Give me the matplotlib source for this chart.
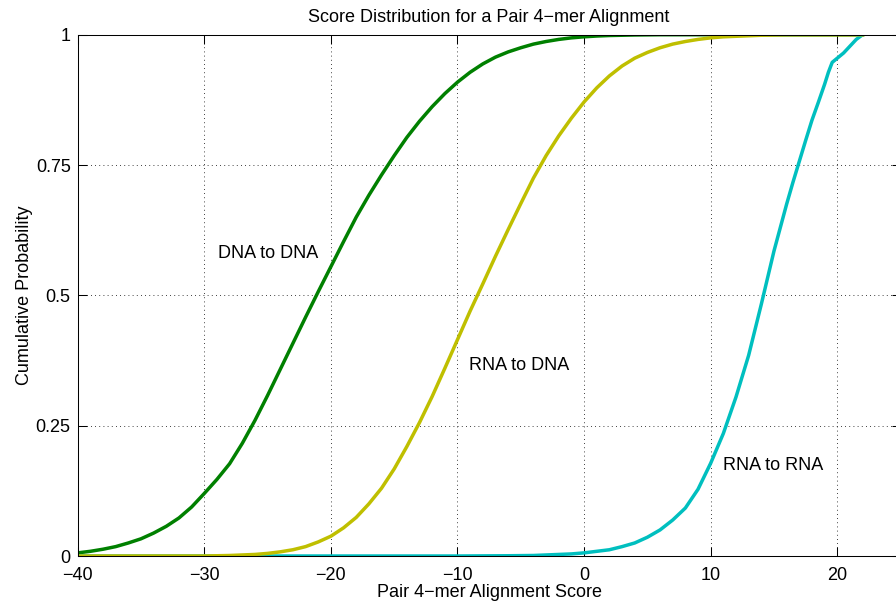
import matplotlib
matplotlib.use("Agg")
import matplotlib.pyplot as plt

plt.rcParams['font.family'] = ['Liberation Sans', 'DejaVu Sans']

# values (score, cumulative probability)
dna_dna_x = [-40, -39, -38, -37, -36, -35, -34, -33, -32, -31, -30, -29, -28,
             -27, -26, -25, -24, -23, -22, -21, -20, -19, -18, -17, -16, -15,
             -14, -13, -12, -11, -10, -9, -8, -7, -6, -5, -4, -3, -2, -1, 0,
             1, 2, 3, 4, 6, 22]
dna_dna_y = [0.006, 0.009, 0.013, 0.018, 0.025, 0.033, 0.044, 0.057, 0.073,
             0.094, 0.12, 0.147, 0.177, 0.216, 0.26, 0.308, 0.358, 0.408,
             0.458, 0.507, 0.555, 0.603, 0.65, 0.692, 0.731, 0.768, 0.803,
             0.834, 0.862, 0.887, 0.909, 0.928, 0.944, 0.957, 0.967, 0.975,
             0.982, 0.987, 0.991, 0.994, 0.996, 0.9975, 0.9985, 0.999, 0.9995,
             1.0, 1.0]

rna_dna_x = [-40, -30, -29, -28, -27, -26, -25, -24, -23, -22, -21, -20, -19,
             -18, -17, -16, -15, -14, -13, -12, -11, -10, -9, -8, -7, -6, -5,
             -4, -3, -2, -1, 0, 1, 2, 3, 4, 5, 6, 7, 8, 9, 10, 11, 12, 13, 14,
             16, 22]
rna_dna_y = [0.0, 0.0, 0.0005, 0.001, 0.002, 0.003, 0.005, 0.008, 0.012,
             0.018, 0.027, 0.038, 0.054, 0.074, 0.1, 0.13, 0.167, 0.21, 0.256,
             0.306, 0.36, 0.415, 0.47, 0.522, 0.575, 0.626, 0.676, 0.725,
             0.768, 0.806, 0.84, 0.871, 0.898, 0.921, 0.94, 0.955, 0.966,
             0.975, 0.982, 0.987, 0.991, 0.994, 0.996, 0.997, 0.998, 0.999,
             1.0, 1.0]

rna_rna_x = [-40, -10, -6, -4, -3, -2, -1, 0, 1, 2, 3, 4, 5, 6, 7, 8, 9, 10,
             11, 12, 13, 14, 15, 16, 16.5, 17, 17.5, 18, 18.5, 19, 19.3, 19.6,
             20, 20.5, 21, 21.5, 22]
rna_rna_y = [0.0, 0.0, 0.0005, 0.001, 0.002, 0.003, 0.004, 0.006, 0.009,
             0.012, 0.018, 0.025, 0.036, 0.05, 0.069, 0.092, 0.128, 0.178,
             0.235, 0.305, 0.385, 0.483, 0.585, 0.675, 0.717, 0.757, 0.797,
             0.836, 0.87, 0.905, 0.928, 0.947, 0.955, 0.965, 0.978, 0.991, 1.0]

x_ticks = [-40, -30, -20, -10, 0, 10, 20]
y_ticks = [0, 0.25, 0.5, 0.75, 1]
y_tick_labels = ["0", "0.25", "0.5", "0.75", "1"]

fig = plt.figure(figsize=(8.96, 6.06), dpi=100)
ax = fig.add_axes([0.0867, 0.0825, 0.9184, 0.8602])

ax.plot(dna_dna_x, dna_dna_y, color=(0, 0.5, 0), lw=2.5)
ax.plot(rna_rna_x, rna_rna_y, color=(0, 0.75, 0.75), lw=2.5)
ax.plot(rna_dna_x, rna_dna_y, color=(0.75, 0.75, 0), lw=2.5)

ax.text(-28.9, 0.58, "DNA to DNA", fontsize=13, va="center", ha="left")
ax.text(-9.1, 0.365, "RNA to DNA", fontsize=13, va="center", ha="left")
ax.text(11.0, 0.173, "RNA to RNA", fontsize=13, va="center", ha="left")

ax.set_xlim(-40, 25)
ax.set_ylim(0, 1)
ax.set_xticks(x_ticks)
ax.set_yticks(y_ticks)
ax.set_yticklabels(y_tick_labels)
ax.grid(True, color="black", linestyle=(0, (1, 4)), linewidth=0.6)
ax.tick_params(direction="in", length=6.5, width=0.75, labelsize=13,
               top=True, right=True)
ax.tick_params(axis="x", pad=8)
ax.tick_params(axis="y", pad=5)
for sp in ax.spines.values():
    sp.set_linewidth(0.75)

ax.set_title("Score Distribution for a Pair 4\u2212mer Alignment", fontsize=13, pad=9)
ax.set_xlabel("Pair 4\u2212mer Alignment Score", fontsize=13, labelpad=0)
ax.set_ylabel("Cumulative Probability", fontsize=13, labelpad=2)

fig.savefig("out.png", dpi=100)
